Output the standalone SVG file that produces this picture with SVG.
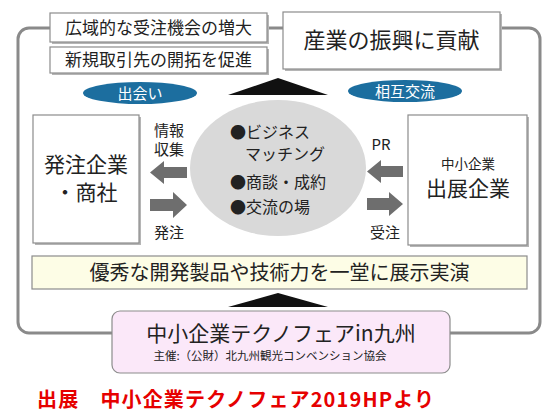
<svg xmlns="http://www.w3.org/2000/svg" width="558" height="419" viewBox="0 0 558 419">
<defs>
<style>
text{font-family:"Noto Sans CJK JP","Noto Sans",sans-serif;fill:#222}
.box{fill:#fff;stroke:#8c8c8c;stroke-width:1.2}
.sh{fill:#b5b5b5}
.arr{fill:#6e6e6e}
.tri{fill:#111}
.ov{fill:#1c6e9f}
.ovt{fill:#fff;font-size:15px;text-anchor:middle}
.lbl{font-size:15px;text-anchor:middle}
</style>
</defs>
<rect width="558" height="419" fill="#fff"/>
<g id="frame">
<rect x="18" y="28" width="522" height="305" rx="11" fill="none" stroke="#8a8a8a" stroke-width="3"/>
</g>
<g id="box-kouiki">
<rect class="sh" x="52" y="15" width="217" height="29"/>
<rect class="box" x="50" y="13" width="217" height="29"/>
<text x="158.5" y="34" font-size="17" text-anchor="middle">広域的な受注機会の増大</text>
</g>
<g id="box-shinki">
<rect class="sh" x="52" y="49" width="217" height="26"/>
<rect class="box" x="50" y="47" width="217" height="26"/>
<text x="158.5" y="66" font-size="17" text-anchor="middle">新規取引先の開拓を促進</text>
</g>
<g id="box-sangyo">
<rect class="sh" x="285" y="14" width="217" height="57"/>
<rect class="box" x="283" y="12" width="217" height="57"/>
<text x="391.5" y="48" font-size="22" text-anchor="middle">産業の振興に貢献</text>
</g>
<g id="oval-deai">
<ellipse class="ov" cx="140" cy="93" rx="57" ry="11"/>
<text class="ovt" x="140" y="98.5">出会い</text>
</g>
<g id="oval-sougo">
<ellipse class="ov" cx="405" cy="91" rx="57" ry="11"/>
<text class="ovt" x="405" y="96.5">相互交流</text>
</g>
<g id="center">
<ellipse cx="278" cy="168" rx="88" ry="68" fill="#d9d9d9"/>
<text x="230" y="138" font-size="16">●ビジネス</text>
<text x="245" y="160" font-size="16">マッチング</text>
<text x="230" y="188" font-size="16">●商談・成約</text>
<text x="230" y="213" font-size="16">●交流の場</text>
</g>
<g id="box-hatchu">
<rect class="sh" x="35" y="117" width="106" height="128"/>
<rect class="box" x="33" y="115" width="106" height="128"/>
<text x="86" y="172" font-size="21" text-anchor="middle">発注企業</text>
<text x="86" y="200" font-size="21" text-anchor="middle">・商社</text>
</g>
<g id="box-shutten">
<rect class="sh" x="410" y="117" width="119" height="130"/>
<rect class="box" x="408" y="115" width="119" height="130"/>
<text x="468" y="169" font-size="13.5" text-anchor="middle">中小企業</text>
<text x="468" y="196" font-size="21" text-anchor="middle">出展企業</text>
</g>
<g id="bar-yushu">
<rect x="32" y="256" width="495" height="33" fill="#fdfde6" stroke="#8c8c8c" stroke-width="1.2"/>
<text x="279.5" y="280" font-size="20" text-anchor="middle">優秀な開発製品や技術力を一堂に展示実演</text>
</g>
<g id="box-fair">
<rect x="112" y="311" width="338" height="62" rx="8" fill="#fbe8f9" stroke="#8c8c8c" stroke-width="1.2"/>
<text x="281" y="341" font-size="21" text-anchor="middle">中小企業テクノフェアin九州</text>
<text x="270" y="360" font-size="11.5" text-anchor="middle">主催:（公財）北九州観光コンベンション協会</text>
</g>
<g id="connectors">
<polygon class="tri" points="228,95 278,78 328,95"/>
<polygon class="tri" points="228,307 278,293 328,307"/>
<polygon class="arr" points="187,167 164,167 164,161 150,172.5 164,184 164,178 187,178"/>
<polygon class="arr" points="150,199 173,199 173,192 187,205 173,218 173,211 150,211"/>
<polygon class="arr" points="403,166 381,166 381,160 367,171.5 381,183 381,177 403,177"/>
<polygon class="arr" points="367,198 389,198 389,192 403,204 389,216 389,210 367,210"/>
<text class="lbl" x="169" y="136">情報</text>
<text class="lbl" x="169" y="155">収集</text>
<text class="lbl" x="169" y="238">発注</text>
<text class="lbl" x="381" y="150">PR</text>
<text class="lbl" x="385" y="238">受注</text>
</g>
<g id="caption">
<text x="37" y="407" font-size="20" font-weight="bold" style="fill:#e60000" textLength="397" lengthAdjust="spacing">出展　中小企業テクノフェア2019HPより</text>
</g>
</svg>
